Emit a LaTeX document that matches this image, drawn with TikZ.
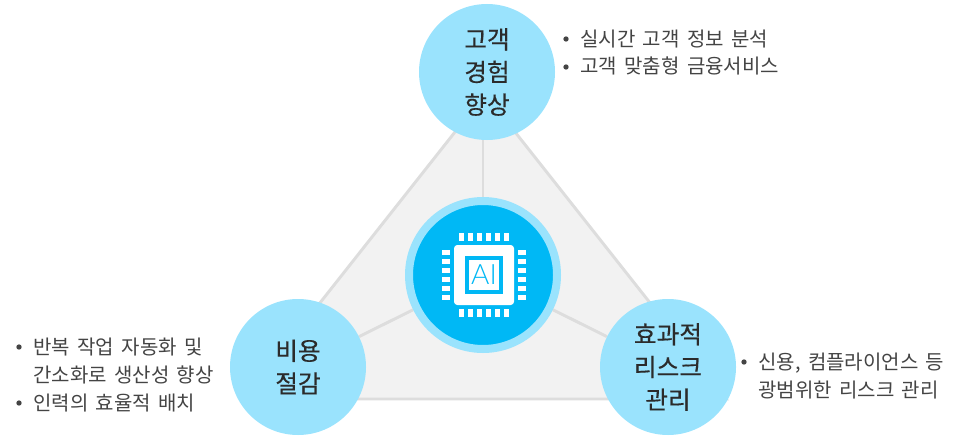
\documentclass[tikz,border=0pt]{standalone}
\usepackage{fontspec}
\setmainfont[WordSpace=1.65]{Noto Sans CJK KR}
\newfontfamily\titlefont[FakeBold=0.35]{Noto Sans CJK KR}
\newfontfamily\chipfont{Lato Light}
\usetikzlibrary{backgrounds}
\definecolor{ringblue}{HTML}{9AE3FD}
\definecolor{coreblue}{HTML}{00B8F5}
\definecolor{panelgray}{HTML}{F2F2F2}
\definecolor{edgegray}{HTML}{DDDDDD}
\definecolor{labelgray}{HTML}{444444}
\definecolor{titlegray}{HTML}{2B2B2B}
\tikzset{goal/.style={circle, fill=ringblue, text=titlegray, minimum size=102pt, inner sep=0pt, align=center, font=\titlefont\fontsize{18.5}{24.5}\selectfont}}
\tikzset{item/.style={anchor=base west, inner sep=0pt, text=labelgray, font=\fontsize{15}{18}\selectfont}}
\tikzset{dotmark/.style={circle, fill=labelgray, minimum size=4pt, inner sep=0pt}}

\begin{document}
\begin{tikzpicture}[x=.75pt,y=-.75pt]
  \useasboundingbox (0,0) rectangle (966,435);
  \coordinate (apex) at (485,94);
  \coordinate (lcorner) at (244,399);
  \coordinate (rcorner) at (726,399);

  \node[goal] (top) at (487,72) {\raisebox{-1.2pt}{고객}\\\raisebox{-1.2pt}{경험}\\\raisebox{-1.2pt}{향상}};
  \node[goal] (left) at (298,367) {비용\\절감};
  \node[goal] (right) at (668,367) {효과적\\리스크\\관리};

  \node[circle, fill=coreblue, draw=ringblue, line width=6pt, minimum size=111pt, inner sep=0pt] (ai) at (483,275) {};
  \node[fill=white, rounded corners=2.5pt, minimum size=45pt, inner sep=0pt] (chip) at (484,275) {};
  \node[draw=coreblue, fill=white, line width=3pt, minimum size=25.5pt, inner sep=0pt, text=coreblue, font=\chipfont\fontsize{21}{21}\selectfont] (chiptext) at (484,274.5) {AI};

  % chip pins
  \foreach \n in {0,...,5} {
    \fill[white] (459+9*\n,233) rectangle ++(4.6,8);
    \fill[white] (459+9*\n,309) rectangle ++(4.6,8);
    \fill[white] (442,250+9*\n) rectangle ++(8,4.6);
    \fill[white] (518,250+9*\n) rectangle ++(8,4.6);
  }

  \foreach \x/\y/\lab in {
    580/46/실시간 고객 정보 분석,
    580/74/고객 맞춤형 금융서비스,
    33/354/반복 작업 자동화 및,
    33/382/간소화로 생산성 향상,
    33/410/인력의 효율적 배치,
    758/369/{신용, 컴플라이언스 등},
    758/397/광범위한 리스크 관리%
  } {
    \node[item] (line\y) at (\x, \y) {\lab};
  }
  \foreach \x/\y in {
    566/39,
    566/67,
    19/347,
    19/403,
    744/362%
  } {
    \node[dotmark] (dot\y) at (\x, \y) {};
  }

  \begin{scope}[on background layer]
    \draw[edgegray, fill=panelgray, line width=2.2pt] (apex) -- (lcorner) -- (rcorner) -- cycle;
    \draw[edgegray, line width=2.2pt] (ai) -- (ai |- top);
    \foreach \v in {left,right} {
      \draw[edgegray, line width=2.2pt] (ai) -- (\v);
    }
  \end{scope}
\end{tikzpicture}
\end{document}
